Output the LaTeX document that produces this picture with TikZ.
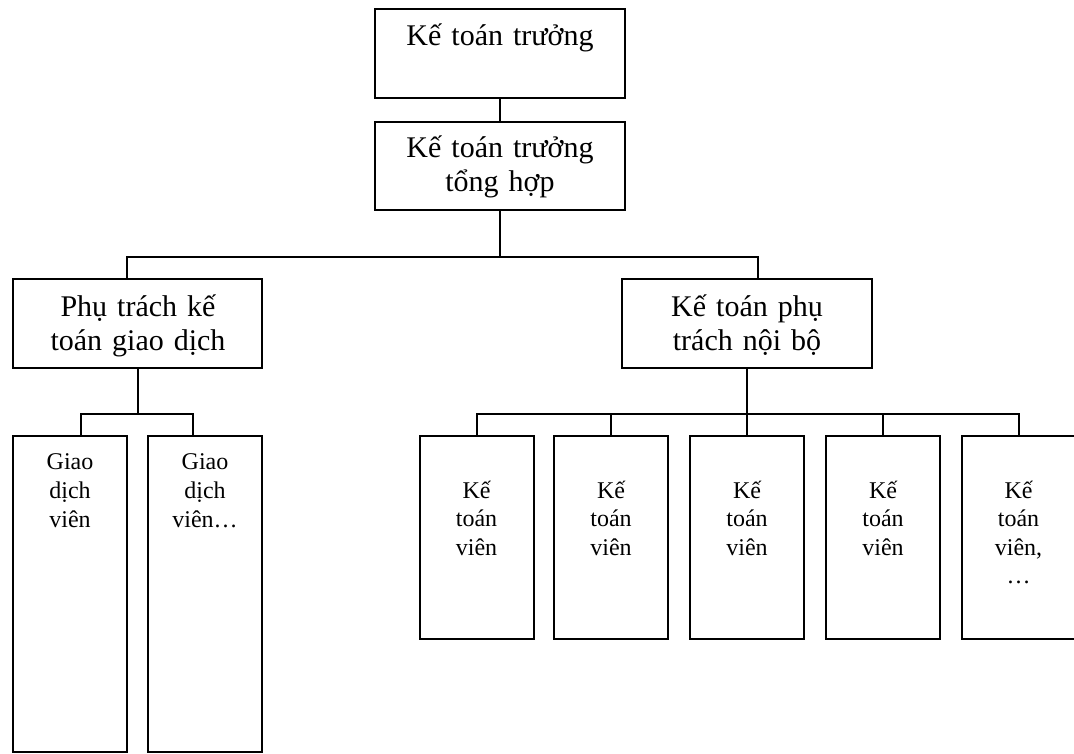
\documentclass[tikz,border=0pt]{standalone}
\usepackage{fontspec}
\setmainfont{Liberation Serif}
\begin{document}
\begin{tikzpicture}[x=1pt, y=-1pt,
  box/.style={draw, line width=2pt, inner sep=0pt},
  conn/.style={line width=2pt},
  bigtxt/.style={font=\fontsize{30}{34.5}\selectfont, align=center, text width=240pt, inner sep=0pt, anchor=base},
  smalltxt/.style={font=\fontsize{24}{28.5}\selectfont, align=center, text width=100pt, inner sep=0pt, anchor=base},
  wide/.style={box, minimum width=250pt, minimum height=89pt},
  tall/.style={box, minimum width=114pt, minimum height=316pt},
  mid/.style={box, minimum width=114pt, minimum height=203pt}]
\useasboundingbox (0,0) rectangle (1074,753);
\fill[white] (0,0) rectangle (1074,753);

% upper levels
\node[wide, minimum height=89pt] (A) at (500,53.5) {};
\node[wide, minimum height=88pt] (B) at (500,166) {};
\node[wide, minimum width=249pt] (C) at (137.5,323.5) {};
\node[wide] (D) at (747,323.5) {};

\node[bigtxt] (tA) at (500,45) {Kế toán trưởng};
\node[bigtxt] (tB) at (500,157) {Kế toán trưởng\\tổng hợp};
\node[bigtxt] (tC) at (138,316) {Phụ trách kế\\toán giao dịch};
\node[bigtxt] (tD) at (747,316) {Kế toán phụ\\trách nội bộ};

% transaction staff
\node[tall] (G1) at (70,594) {};
\node[tall] (G2) at (205,594) {};
\node[smalltxt, font=\fontsize{24}{29}\selectfont] (tG1) at (70,469) {Giao\\dịch\\viên};
\node[smalltxt, font=\fontsize{24}{29}\selectfont] (tG2) at (205,469) {Giao\\dịch\\viên…};

% internal accountants
\node[mid] (K1) at (476.5,537.5) {};
\node[mid] (K2) at (611,537.5) {};
\node[mid] (K3) at (747,537.5) {};
\node[mid] (K4) at (883,537.5) {};
\node[mid] (K5) at (1018.5,537.5) {};
\node[smalltxt] (tK1) at (476.5,498) {Kế\\toán\\viên};
\node[smalltxt] (tK2) at (611,498) {Kế\\toán\\viên};
\node[smalltxt] (tK3) at (747,498) {Kế\\toán\\viên};
\node[smalltxt] (tK4) at (883,498) {Kế\\toán\\viên};
\node[smalltxt] (tK5) at (1018.5,498) {Kế\\toán\\viên,\\…};

% connectors
\draw[conn] (A.south) -- (B.north);
\draw[conn] (B.south) -- ++(0,46) coordinate (hub);
\draw[conn] ([xshift=-10.5pt]C.north) |- (hub) -| ([xshift=11pt]D.north);

\draw[conn] (C.south) -- ++(0,45) coordinate (ghub);
\draw[conn] ([xshift=11pt]G1.north) |- (ghub) -| ([xshift=-12pt]G2.north);

\draw[conn] (D.south) -- ++(0,45) coordinate (khub);
\draw[conn] (khub) -- (K3.north);
\draw[conn] (K1.north) |- (khub) -| (K5.north);
\draw[conn] (K2.north) -- (K2.north |- khub);
\draw[conn] (K4.north) -- (K4.north |- khub);
\end{tikzpicture}
\end{document}
